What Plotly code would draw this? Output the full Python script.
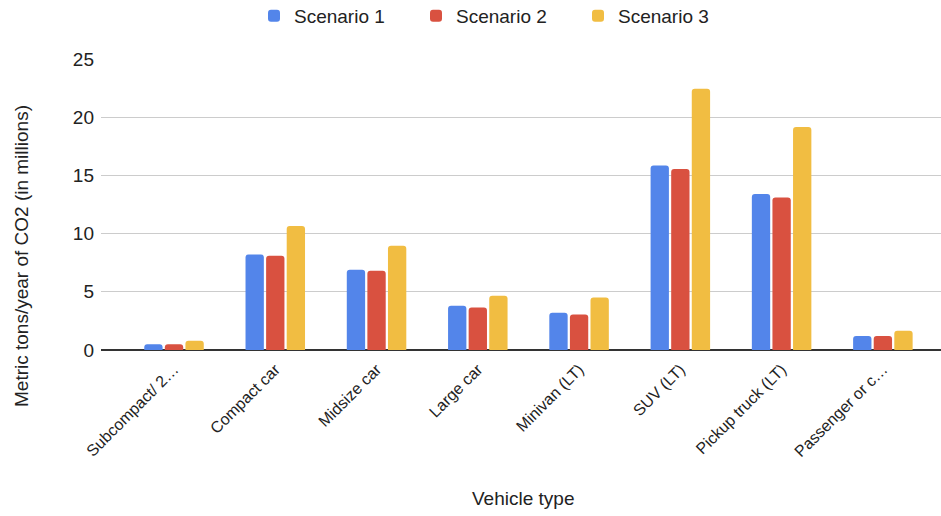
import plotly.graph_objects as go

# Vehicle categories (long names are shown truncated on the axis)
vehicle_types = [
    "Subcompact/ 2…",
    "Compact car",
    "Midsize car",
    "Large car",
    "Minivan (LT)",
    "SUV (LT)",
    "Pickup truck (LT)",
    "Passenger or c…",
]

# Metric tons/year of CO2, in millions
scenario_1 = [0.5, 8.2, 6.9, 3.8, 3.2, 15.85, 13.4, 1.2]
scenario_2 = [0.5, 8.1, 6.8, 3.65, 3.05, 15.55, 13.1, 1.2]
scenario_3 = [0.8, 10.65, 8.95, 4.65, 4.5, 22.45, 19.15, 1.65]

series_names = ["Scenario 1", "Scenario 2", "Scenario 3"]
series_colors = ["#5385EA", "#D95140", "#F1BD42"]

y_ticks = [0, 5, 10, 15, 20, 25]

FONT = "Liberation Sans, Arial, Helvetica, sans-serif"
TEXT = "#222222"

fig = go.Figure()
for name, values, color in zip(series_names, [scenario_1, scenario_2, scenario_3], series_colors):
    fig.add_trace(
        go.Bar(
            name=name,
            x=list(range(len(vehicle_types))),
            y=values,
            marker=dict(color=color, line=dict(width=0), cornerradius=3),
            hoverinfo="x+y+name",
        )
    )

W, H = 941, 516
ml, mr, mt, mb = 101, 0, 59, 166
plot_w = W - ml - mr
plot_h = H - mt - mb

fig.update_layout(
    width=W,
    height=H,
    template="none",
    paper_bgcolor="white",
    plot_bgcolor="white",
    margin=dict(l=ml, r=mr, t=mt, b=mb, pad=0, autoexpand=False),
    barmode="group",
    bargap=0.39,
    bargroupgap=0.11,
    font=dict(family=FONT, size=16, color=TEXT),
    showlegend=True,
    legend=dict(
        orientation="h",
        xref="container",
        x=254 / W,
        xanchor="left",
        yref="container",
        y=1 - 16 / H,
        yanchor="middle",
        font=dict(family=FONT, size=19, color=TEXT),
        entrywidth=117,
        entrywidthmode="pixels",
        itemwidth=30,
        bgcolor="rgba(0,0,0,0)",
    ),
    xaxis=dict(
        range=[-0.721, 7.574],
        tickmode="array",
        tickvals=list(range(len(vehicle_types))),
        ticktext=vehicle_types,
        tickangle=-45,
        tickfont=dict(family=FONT, size=16, color=TEXT),
        showgrid=False,
        zeroline=False,
        showline=False,
        ticks="",
        ticklabelstandoff=6,
        automargin=False,
        fixedrange=True,
    ),
    yaxis=dict(
        range=[0, 25],
        tickmode="array",
        tickvals=y_ticks,
        ticktext=[str(v) for v in y_ticks],
        tickfont=dict(family=FONT, size=19, color=TEXT),
        showgrid=True,
        gridcolor="#CCCCCC",
        gridwidth=1,
        zeroline=True,
        zerolinecolor="#333333",
        zerolinewidth=1.5,
        showline=False,
        ticks="",
        ticklabelstandoff=6,
        automargin=False,
        fixedrange=True,
    ),
    annotations=[
        dict(
            text="Metric tons/year of CO2 (in millions)",
            xref="paper",
            yref="paper",
            x=(21 - ml) / plot_w,
            y=(mt + plot_h - 256) / plot_h,
            xanchor="center",
            yanchor="middle",
            textangle=-90,
            showarrow=False,
            font=dict(family=FONT, size=19, color=TEXT),
        ),
        dict(
            text="Vehicle type",
            xref="paper",
            yref="paper",
            x=(523 - ml) / plot_w,
            y=-(498 - (mt + plot_h)) / plot_h,
            xanchor="center",
            yanchor="middle",
            showarrow=False,
            font=dict(family=FONT, size=19, color=TEXT),
        ),
    ],
)

fig.write_html("out.html")
